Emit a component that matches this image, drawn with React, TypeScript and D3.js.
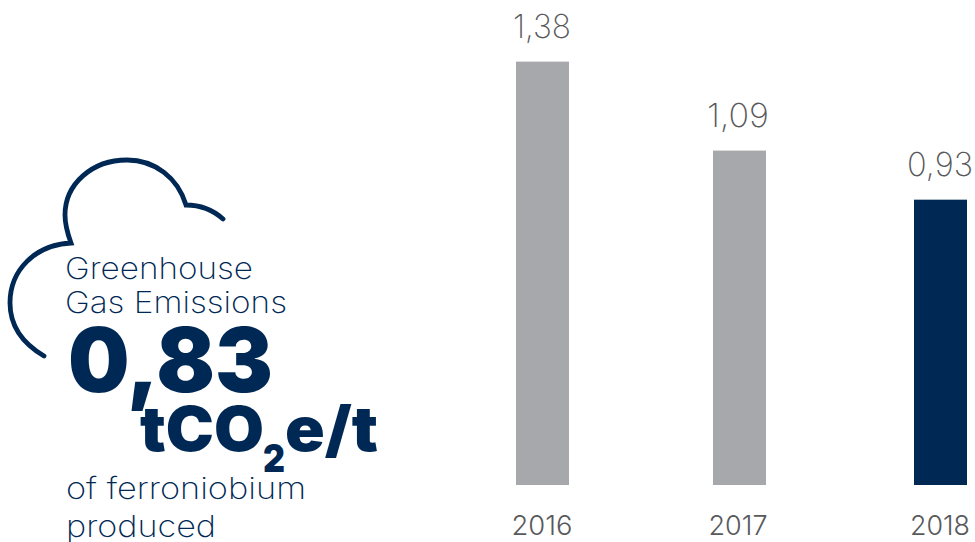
import React from "react";
import * as d3 from "d3";

const years = ["2016", "2017", "2018"];
const emissions = [1.38, 1.09, 0.93];
const valueLabels = ["1,38", "1,09", "0,93"];
const barColors = ["#a7a8ab", "#a7a8ab", "#002855"];

const NAVY = "#002855";
const GREY = "#58595b";
const FONT = "Inter, Lato, sans-serif";

const baseline = 485;
const pxPerUnit = 306.8;
const barWidth = 53;
const barLefts = [516, 713, 914];
const labelCentres = [542, 738, 940];
const valueWidths = [58, 62, 66];
const yearWidths = [61, 59, 60];

const y = d3.scaleLinear().domain([0, 1]).range([baseline, baseline - pxPerUnit]);

const cloud = d3.path();
cloud.moveTo(44, 356);
cloud.bezierCurveTo(22, 343, 10, 325, 10, 303);
cloud.bezierCurveTo(10, 270, 35, 245, 71, 243);
cloud.bezierCurveTo(67, 232, 65, 225, 65, 215);
cloud.bezierCurveTo(65, 184, 92, 160, 127, 160);
cloud.bezierCurveTo(155, 160, 178, 178, 186, 205);
cloud.bezierCurveTo(200, 205, 213, 210, 223, 219);

type Caption = { text: string; x: number; y: number; size: number; weight: number; width: number };

const captions: Caption[] = [
  { text: "Greenhouse", x: 65, y: 279, size: 30, weight: 200, width: 188 },
  { text: "Gas Emissions", x: 65, y: 313, size: 30, weight: 200, width: 222 },
  { text: "0,83", x: 68, y: 392, size: 90, weight: 900, width: 205 },
  { text: "tCO", x: 140, y: 451, size: 62, weight: 900, width: 124 },
  { text: "2", x: 263, y: 472, size: 39, weight: 900, width: 22 },
  { text: "e/t", x: 285, y: 451, size: 62, weight: 900, width: 93 },
  { text: "of ferroniobium", x: 66, y: 499, size: 30, weight: 200, width: 240 },
  { text: "produced", x: 66, y: 537, size: 30, weight: 200, width: 150 },
];

export default function App() {
  return (
    <svg
      width={975}
      height={542}
      viewBox="0 0 975 542"
      style={{ position: "fixed", left: 0, top: 0, background: "#fff" }}
      fontFamily={FONT}
    >
      <path d={cloud.toString()} fill="none" stroke={NAVY} strokeWidth={4.8} strokeLinecap="round" strokeLinejoin="miter" />

      {captions.map((c) => (
        <text
          key={c.text}
          x={c.x}
          y={c.y}
          fontSize={c.size}
          fontWeight={c.weight}
          fill={NAVY}
          textLength={c.width}
          lengthAdjust="spacingAndGlyphs"
        >
          {c.text}
        </text>
      ))}

      {emissions.map((v, i) => (
        <g key={years[i]}>
          <rect x={barLefts[i]} y={y(v)} width={barWidth} height={baseline - y(v)} fill={barColors[i]} />
          <text
            x={labelCentres[i] - valueWidths[i] / 2}
            y={y(v) - 24}
            fontSize={33}
            fontWeight={200}
            fill={GREY}
            textLength={valueWidths[i]}
            lengthAdjust="spacingAndGlyphs"
          >
            {valueLabels[i]}
          </text>
          <text
            x={labelCentres[i] - yearWidths[i] / 2}
            y={535}
            fontSize={26.5}
            fontWeight={300}
            fill={GREY}
            textLength={yearWidths[i]}
            lengthAdjust="spacingAndGlyphs"
          >
            {years[i]}
          </text>
        </g>
      ))}
    </svg>
  );
}
